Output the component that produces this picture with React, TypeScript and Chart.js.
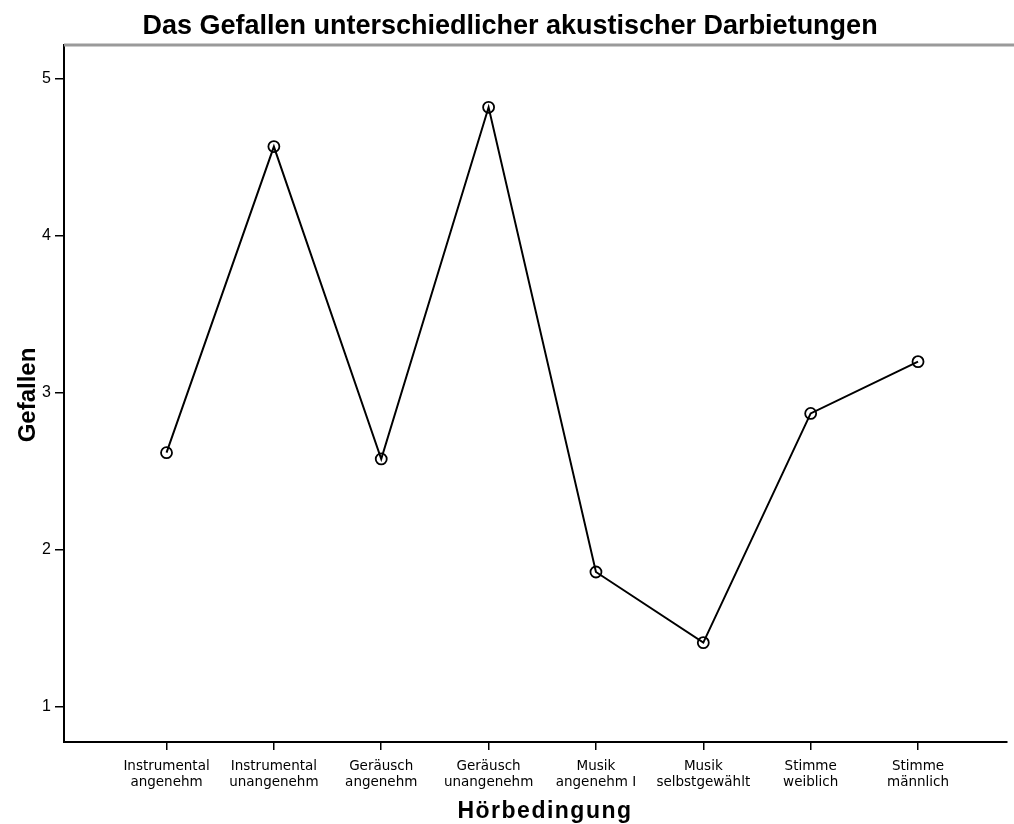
import React, { useEffect, useRef } from "react";
import { Chart, registerables } from "chart.js";

Chart.register(...registerables);

const chartTitle = "Das Gefallen unterschiedlicher akustischer Darbietungen";
const xAxisTitle = "Hörbedingung";
const yAxisTitle = "Gefallen";

const categories: string[][] = [
  ["Instrumental", "angenehm"],
  ["Instrumental", "unangenehm"],
  ["Geräusch", "angenehm"],
  ["Geräusch", "unangenehm"],
  ["Musik", "angenehm I"],
  ["Musik", "selbstgewählt"],
  ["Stimme", "weiblich"],
  ["Stimme", "männlich"],
];

const gefallen: number[] = [2.62, 4.57, 2.58, 4.82, 1.86, 1.41, 2.87, 3.2];

const yTicks: number[] = [1, 2, 3, 4, 5];

const W = 1014;
const H = 824;

export default function App() {
  const ref = useRef<HTMLCanvasElement | null>(null);

  useEffect(() => {
    if (!ref.current) return;

    const decor = {
      id: "decor",
      afterDraw(chart: any) {
        const ctx = chart.ctx;
        const ca = chart.chartArea;
        ctx.save();
        // gray top frame line
        ctx.strokeStyle = "#9a9a9a";
        ctx.lineWidth = 3;
        ctx.beginPath();
        ctx.moveTo(ca.left, ca.top);
        ctx.lineTo(W, ca.top);
        ctx.stroke();
        // title
        ctx.fillStyle = "#000";
        ctx.textAlign = "center";
        ctx.textBaseline = "alphabetic";
        ctx.font = "bold 27px 'Liberation Sans', Arial, sans-serif";
        ctx.fillText(chartTitle, 510, 34);
        // x axis title
        ctx.font = "bold 23px 'Liberation Sans', Arial, sans-serif";
        (ctx as any).letterSpacing = "1.5px";
        ctx.fillText(xAxisTitle, 545, 818);
        (ctx as any).letterSpacing = "0px";
        // y axis title
        ctx.translate(35, 395);
        ctx.rotate(-Math.PI / 2);
        ctx.font = "bold 24px 'Liberation Sans', Arial, sans-serif";
        ctx.fillText(yAxisTitle, 0, 0);
        ctx.restore();
      },
    };

    const chart = new Chart(ref.current, {
      type: "line",
      data: {
        datasets: [
          {
            data: gefallen.map((v, i) => ({ x: i, y: v })),
            borderColor: "#000",
            borderWidth: 2,
            pointRadius: 5.5,
            pointBorderWidth: 1.8,
            pointBorderColor: "#000",
            pointBackgroundColor: "rgba(255,255,255,0)",
            tension: 0,
          },
        ],
      },
      options: {
        responsive: false,
        animation: false,
        layout: { padding: { top: 45, right: 0, bottom: 0, left: 0 } },
        plugins: {
          legend: { display: false },
          title: { display: false },
          tooltip: { enabled: false },
        },
        scales: {
          x: {
            type: "linear",
            min: -0.955,
            max: 7.826,
            afterBuildTicks: (scale: any) => {
              scale.ticks = categories.map((_, i) => ({ value: i }));
            },
            afterFit: (scale: any) => {
              scale.height = 82;
            },
            grid: {
              drawOnChartArea: false,
              drawTicks: true,
              tickLength: 8,
              color: "#000",
              lineWidth: 1.5,
            },
            border: { display: true, color: "#000", width: 2 },
            ticks: {
              autoSkip: false,
              maxRotation: 0,
              padding: 9,
              color: "#000",
              font: { family: "'DejaVu Sans', sans-serif", size: 13.5, lineHeight: 1.15 },
              callback: (v: any) => categories[Math.round(Number(v))] ?? "",
            },
          },
          y: {
            type: "linear",
            min: 0.777,
            max: 5.217,
            afterBuildTicks: (scale: any) => {
              scale.ticks = yTicks.map((v) => ({ value: v }));
            },
            afterFit: (scale: any) => {
              scale.width = 64;
            },
            grid: {
              drawOnChartArea: false,
              drawTicks: true,
              tickLength: 9,
              color: "#000",
              lineWidth: 1.5,
            },
            border: { display: true, color: "#000", width: 2 },
            ticks: {
              padding: 4,
              color: "#000",
              font: { family: "'Liberation Sans', Arial, sans-serif", size: 16 },
              callback: (v: any) => String(v),
            },
          },
        },
      },
      plugins: [decor],
    });

    return () => chart.destroy();
  }, []);

  return (
    <div style={{ position: "absolute", left: 0, top: 0, width: W, height: H, background: "#fff" }}>
      <canvas ref={ref} width={W} height={H} style={{ display: "block" }} />
    </div>
  );
}
